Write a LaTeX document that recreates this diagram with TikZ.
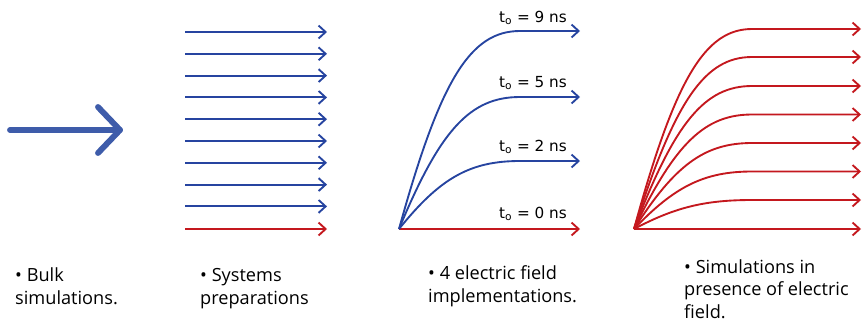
\documentclass[tikz,border=0pt]{standalone}
\usepackage{fontspec}
\setmainfont{Open Sans}
\newfontfamily\labelfont{DejaVu Sans}
\usetikzlibrary{arrows.meta}
\definecolor{simblue}{RGB}{38,68,160}
\definecolor{bulkblue}{RGB}{62,92,170}
\definecolor{simred}{RGB}{196,24,30}
\tikzset{
  run/.style={line width=1.6pt,-{Straight Barb[length=6pt,width=11pt]}},
  caption/.style={anchor=base west,align=left,inner sep=0pt,
    font=\fontsize{15.5}{19.2}\selectfont},
  tlabel/.style={anchor=base east,inner sep=0pt,
    font=\labelfont\fontsize{13}{15}\selectfont}
}
\begin{document}
\begin{tikzpicture}[x=0.03cm,y=-0.03cm]
  \useasboundingbox (0,0) rectangle (864,324);

  % bulk arrow
  \coordinate (bulkstart) at (10,130);
  \coordinate (bulkend) at (120,130);
  \draw[bulkblue,line width=5pt,line cap=round,line join=round]
    (bulkstart) -- (bulkend);
  \draw[bulkblue,line width=5pt,line cap=round,line join=round]
    ([shift={(-22,-23)}]bulkend) -- (bulkend) -- ++(-22,23);

  % system preparations
  \foreach \i in {0,...,8}{
    \coordinate (prep\i) at (185,{32+21.8*\i});
    \draw[run,simblue] (prep\i) -- ++(142,0);
  }
  \coordinate (prep9) at (185,229);
  \draw[run,simred] (prep9) -- ++(142,0);

  % electric field implementations
  \coordinate (field) at (399,229);
  \draw[run,simred] (field) -- (580,229);
  \foreach \y in {31,97,161}{
    \draw[run,simblue] (field) .. controls (440,{229-(229-\y)*0.75}) and (470,\y)
      .. (520,\y) -- (580,\y);
  }
  \node[tlabel] (t9) at (567,22.7) {t\textsubscript{o} = 9 ns};
  \node[tlabel] (t5) at (567,87.3) {t\textsubscript{o} = 5 ns};
  \node[tlabel] (t2) at (567,151.7) {t\textsubscript{o} = 2 ns};
  \node[tlabel] (t0) at (567,218.3) {t\textsubscript{o} = 0 ns};

  % simulations with field
  \coordinate (sim) at (634,229);
  \draw[run,simred] (sim) -- (861,229);
  \foreach \y in {29,57,86,114.5,143,171.5,200}{
    \draw[run,simred] (sim) .. controls (675,{229-(229-\y)*0.75}) and (705,\y)
      .. (752,\y) -- (861,\y);
  }

  % captions
  \node[caption] (bulk) at (15,304) {\textbullet{} Bulk\\simulations.};
  \node[caption] (prep) at (200,304) {\textbullet{} Systems\\preparations};
  \node[caption] (impl) at (428,302) {\textbullet{} 4 electric field\\implementations.};
  \node[caption] (pres) at (684,318) {\textbullet{} Simulations in\\presence of electric\\field.};
\end{tikzpicture}
\end{document}
